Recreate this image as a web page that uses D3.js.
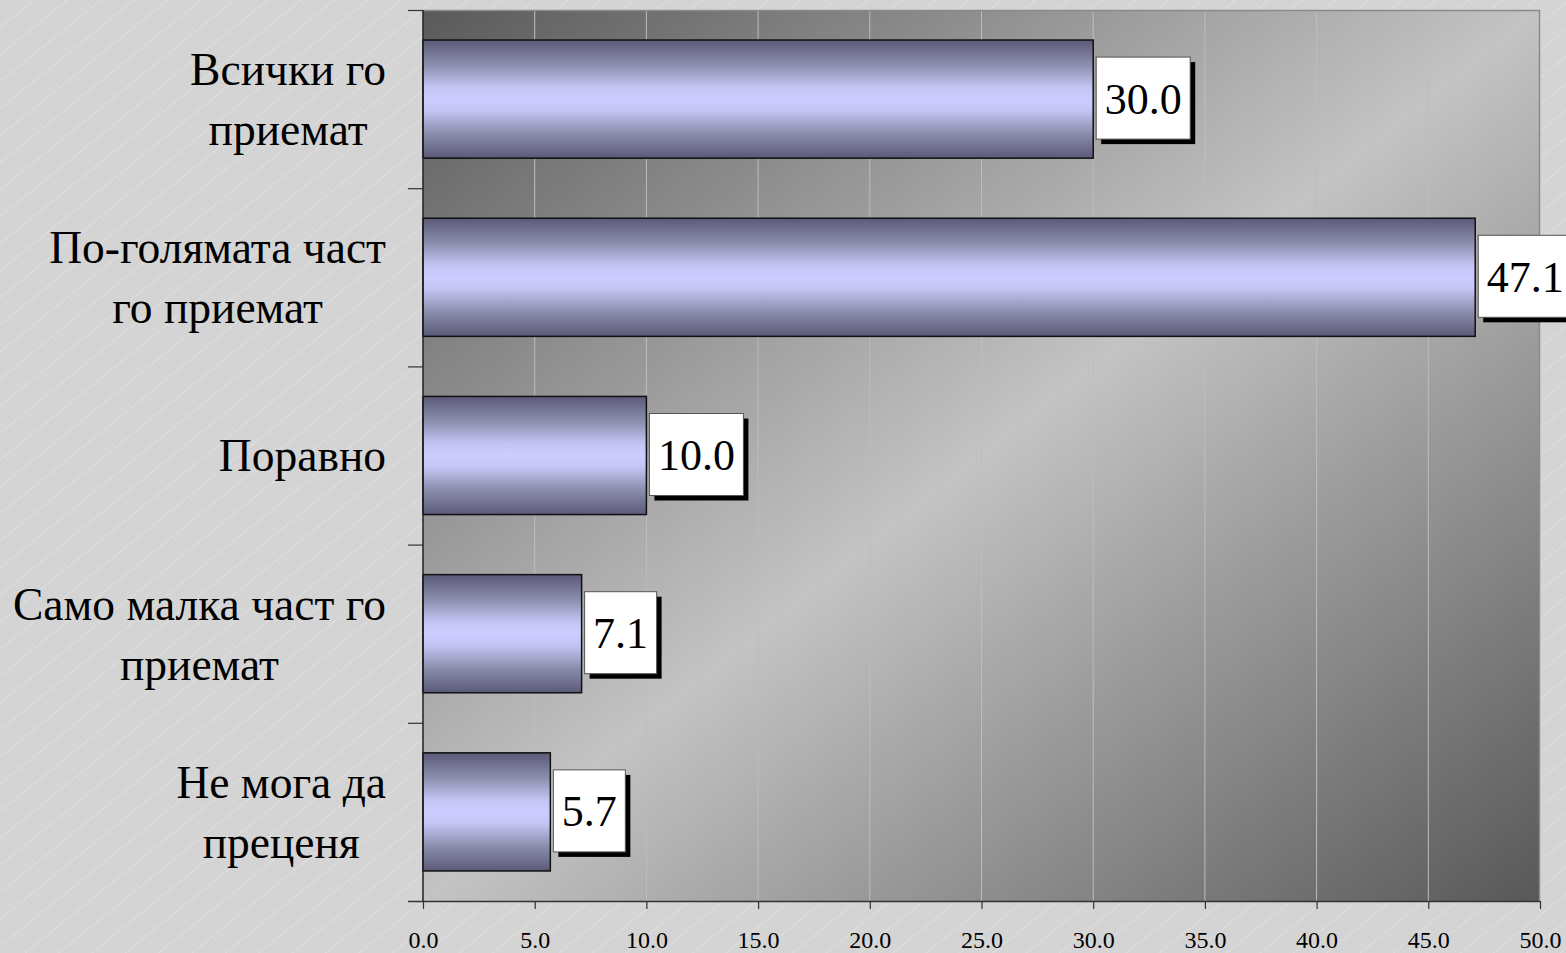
<!DOCTYPE html>
<html><head><meta charset="utf-8">
<script src="https://cdn.jsdelivr.net/npm/d3@7"></script>
<style>html,body{margin:0;padding:0;background:#d5d5d5;overflow:hidden}</style>
</head><body>
<svg id="c" width="1566" height="953"></svg>
<script>
const categories = [["Всички го","приемат"],["По-голямата част","го приемат"],["Поравно"],["Само малка част го","приемат"],["Не мога да","преценя"]];
const values = [30.0, 47.1, 10.0, 7.1, 5.7];
const valueLabels = ["30.0","47.1","10.0","7.1","5.7"];
const xTicks = [0,5,10,15,20,25,30,35,40,45,50];

const svg = d3.select("#c");
const W = 1566, H = 953;
const L = 423, R = 1540, T = 10, B = 901;
const defs = svg.append("defs");

// background hatch
const pat = defs.append("pattern").attr("id","hatch").attr("patternUnits","userSpaceOnUse")
  .attr("width",21).attr("height",21).attr("patternTransform","rotate(51)");
pat.append("rect").attr("width",21).attr("height",21).attr("fill","#d4d4d4");
pat.append("line").attr("x1",0).attr("y1",0).attr("x2",0).attr("y2",21).attr("stroke","#e8e8e8").attr("stroke-width",1);
svg.append("rect").attr("width",W).attr("height",H).attr("fill","url(#hatch)");

// plot gradient
const pg = defs.append("linearGradient").attr("id","pg").attr("x1",0).attr("y1",0).attr("x2",1).attr("y2",1);
pg.append("stop").attr("offset","0%").attr("stop-color","#5a5a5a");
pg.append("stop").attr("offset","50%").attr("stop-color","#c3c3c3");
pg.append("stop").attr("offset","100%").attr("stop-color","#585858");

const bg = defs.append("linearGradient").attr("id","bg").attr("x1",0).attr("y1",0).attr("x2",0).attr("y2",1);
[[0,"#5a5a78"],[0.2,"#8a8aaa"],[0.4,"#c4c4f4"],[0.5,"#ccccff"],[0.6,"#c4c4f4"],[0.8,"#8a8aaa"],[1,"#5a5a78"]]
  .forEach(([o,c])=>bg.append("stop").attr("offset",o).attr("stop-color",c));

const x = d3.scaleLinear().domain([0,50]).range([L,R]);
const y = d3.scaleBand().domain(d3.range(categories.length)).range([T,B]).paddingInner(0.337).paddingOuter(0.1685);
const yb = d3.scaleBand().domain(d3.range(categories.length)).range([T,B]);

svg.append("rect").attr("x",L).attr("y",T).attr("width",R-L).attr("height",B-T).attr("fill","url(#pg)");

// gridlines
svg.append("g").selectAll("line").data(xTicks.slice(1,-1)).join("line")
  .attr("x1",d=>x(d)).attr("x2",d=>x(d)).attr("y1",T).attr("y2",B)
  .attr("stroke","#bdbdbd").attr("stroke-width",1);
// borders top/right
svg.append("path").attr("d",`M${L},${T+0.5}H${R-0.5}V${B}`).attr("fill","none").attr("stroke","#8a8a8a").attr("stroke-width",1.5);

// bars
svg.append("g").selectAll("rect").data(values).join("rect")
  .attr("x",L).attr("y",(d,i)=>y(i)).attr("width",d=>x(d)-L).attr("height",y.bandwidth())
  .attr("fill","url(#bg)").attr("stroke","#111").attr("stroke-width",1.5);

// axes
const xAxis = svg.append("g").attr("transform",`translate(0,${B})`).call(d3.axisBottom(x).tickValues(xTicks).tickFormat(d3.format(".1f")).tickSize(8).tickSizeOuter(0));
xAxis.select(".domain").attr("d",`M408,0.5H${R}`).attr("stroke","#333").attr("stroke-width",1.5);
xAxis.selectAll(".tick line").attr("stroke","#333").attr("stroke-width",1.2);
xAxis.selectAll(".tick text").attr("font-family","'Liberation Serif','Times New Roman',serif").attr("font-size",24).attr("fill","#000").attr("y",30).attr("dy","0.71em");

svg.append("line").attr("x1",L).attr("x2",L).attr("y1",T).attr("y2",B).attr("stroke","#222").attr("stroke-width",1.5);
const bounds = d3.range(categories.length+1).map(i=> i<categories.length ? yb(i) : B);
svg.append("g").selectAll("line").data(bounds.slice(0,-1)).join("line")
  .attr("x1",408).attr("x2",L).attr("y1",d=>d+0.5).attr("y2",d=>d+0.5).attr("stroke","#333").attr("stroke-width",1.2);

// category labels
const font = "'Liberation Serif','Times New Roman',serif";
categories.forEach((lines,i)=>{
  const cy = yb(i)+yb.bandwidth()/2;
  const g = svg.append("g");
  const lh = 60;
  const ts = lines.map((s,k)=>g.append("text").text(s).attr("font-family",font).attr("font-size",45.5).attr("fill","#000")
     .attr("text-anchor","middle").attr("y",cy + (k-(lines.length-1)/2)*lh).attr("dy","0.35em"));
  const mw = d3.max(ts, t=>t.node().getComputedTextLength());
  ts.forEach(t=>t.attr("x",386-mw/2));
});

// value labels
values.forEach((v,i)=>{
  const cy = y(i)+y.bandwidth()/2;
  const g = svg.append("g");
  const t = g.append("text").text(valueLabels[i]).attr("font-family",font).attr("font-size",44).attr("fill","#000");
  const tw = t.node().getComputedTextLength();
  const bx = x(v)+3, bw = tw+17, bh = 82, by = cy-bh/2-1;
  g.insert("rect","text").attr("x",bx+5).attr("y",by+5).attr("width",bw).attr("height",bh).attr("fill","#000");
  g.insert("rect","text").attr("x",bx).attr("y",by).attr("width",bw).attr("height",bh).attr("fill","#fff").attr("stroke","#555").attr("stroke-width",1);
  t.attr("x",bx+bw/2).attr("text-anchor","middle").attr("y",by+bh/2).attr("dy","0.35em");
});
</script>
</body></html>
